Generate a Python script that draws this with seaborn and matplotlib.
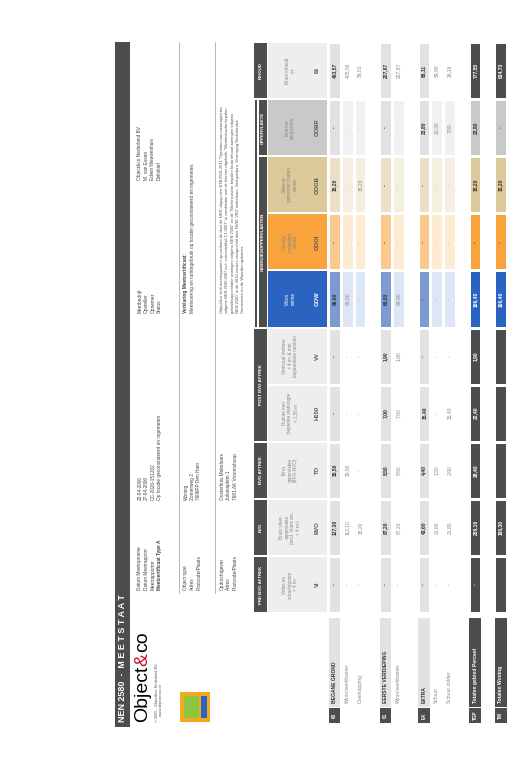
import numpy as np
import pandas as pd
import seaborn as sns
import matplotlib
matplotlib.use("Agg")
import matplotlib.pyplot as plt
from matplotlib.colors import ListedColormap
from matplotlib.patches import Rectangle

sns.set_theme(style="white")
plt.rcParams['font.family'] = ['Liberation Sans', 'DejaVu Sans']

# ---------------- data ----------------
row_labels = ["BEGANE GROND", "Woon/werkkamer", "Overkapping", None,
              "EERSTE VERDIEPING", "Woon/werkkamer", None,
              "EXTRA", "Schuur", "Schuur zolder", None,
              "Totalen gebied Perceel", None, "Totalen Woning"]
row_kinds = ["group", "detail", "detail", "gap", "group", "detail", "gap",
             "group", "detail", "detail", "gap", "total", "gap", "total"]
row_codes = ["00", "", "", "", "01", "", "", "EX", "", "", "", "TGP", "", "TW"]

col_codes = ["VI", "BVO", "TO", "H150", "VV", "GOW", "GOOI", "GOGB", "GOBR", "BI"]
col_desc = ["Vides en\nschachtgaten\n> 4 m²",
            "Bruto vloer-\noppervlakte\n(excl. Vides etc.\n> 4 m²)",
            "Terra\noppervlakte\n(BVO-NVO)",
            "Ruimte met\nbeperkte stahoogte\n< 1,50 m",
            "Verticaal Verkeer\n> 4 m² & met\nbegaanbare ruimten",
            "Woon\nruimte",
            "Overige\ninpandige\nruimte",
            "Gebouw\ngebonden buiten\nruimte",
            "Externe\nbergruimte",
            "Bruto inhoud\nm³"]
groups = [("PRE BVO AFTREK", 0, 0), ("BVO", 1, 1), ("BVO AFTREK", 2, 2),
          ("POST BVO AFTREK", 3, 4), ("GEBRUIKSOPPERVLAKTEN", 5, 7),
          ("OPPERVLAKTE", 8, 8), ("INHOUD", 9, 9)]

_ = None
VI   = ["-", "-", "-", _, "-", "-", _, "-", "-", "-", _, "-", _, ""]
BVO  = ["127,30", "112,10", "15,20", _, "87,20", "87,20", _, "43,60", "21,80", "21,80", _, "258,10", _, "199,30"]
TO   = ["15,50", "15,50", "-", _, "8,50", "8,50", _, "4,40", "1,50", "2,90", _, "28,40", _, ""]
H150 = ["-", "-", "-", _, "7,00", "7,00", _, "15,40", "-", "15,40", _, "22,40", _, ""]
VV   = ["-", "-", "-", _, "1,90", "1,90", _, "-", "-", "-", _, "1,90", _, ""]
GOW  = ["96,60", "96,60", "-", _, "69,80", "69,80", _, "-", "-", "-", _, "166,40", _, "166,40"]
GOOI = ["-", "-", "-", _, "-", "-", _, "-", "-", "-", _, "-", _, "-"]
GOGB = ["15,20", "-", "15,20", _, "-", "-", _, "-", "-", "-", _, "15,20", _, "15,20"]
GOBR = ["-", "-", "-", _, "-", "-", _, "23,80", "20,30", "3,50", _, "23,80", _, "-"]
BI   = ["463,57", "405,56", "58,01", _, "227,87", "227,87", _, "86,11", "59,95", "26,16", _, "777,55", _, "634,73"]
values = {"VI": VI, "BVO": BVO, "TO": TO, "H150": H150, "VV": VV, "GOW": GOW,
          "GOOI": GOOI, "GOGB": GOGB, "GOBR": GOBR, "BI": BI}

# ---------------- styles ----------------
GREY = ("#eeeeee", "#e2e2e2", "#ffffff", "#4d4d4d")
col_colors = {"VI": GREY, "BVO": GREY, "TO": GREY, "H150": GREY, "VV": GREY,
              "GOW": ("#2b63c1", "#7c9bd1", "#dde6f6", "#2b63c1"),
              "GOOI": ("#f9a33d", "#fbc98d", "#fdebd2", "#f9a33d"),
              "GOGB": ("#dbc99a", "#ebe0c5", "#f4efe1", "#dbc99a"),
              "GOBR": ("#c9c9c9", "#e1e1e1", "#f1f1f1", "#c9c9c9"),
              "BI": GREY}
DARK = "#4d4d4d"

W, H = 532, 768
fig = plt.figure(figsize=(W / 100, H / 100), dpi=100)
bg = fig.add_axes([0, 0, 1, 1])
bg.set_xlim(0, W); bg.set_ylim(H, 0); bg.axis("off")

x0, x1 = 328, 507
y_top, y_bot = 42, 613
n_rows = len(row_kinds)
slot = (x1 - x0) / n_rows
cw = (y_bot - y_top) / len(col_codes)
order = col_codes[::-1]

def col_y(i):
    k = order.index(col_codes[i])
    return y_top + k * cw, y_top + (k + 1) * cw

palette = []
def cidx(c):
    if c not in palette:
        palette.append(c)
    return palette.index(c)
kind_i = {"group": 1, "detail": 2, "total": 3}
mat = np.zeros((len(order), n_rows))
for r, code in enumerate(order):
    for c, kind in enumerate(row_kinds):
        mat[r, c] = cidx("#ffffff") if kind == "gap" else cidx(col_colors[code][kind_i[kind]])
df = pd.DataFrame(mat, index=order, columns=range(n_rows))
hax = fig.add_axes([x0 / W, 1 - y_bot / H, (x1 - x0) / W, (y_bot - y_top) / H])
sns.heatmap(df, ax=hax, cmap=ListedColormap(palette), vmin=-0.5, vmax=len(palette) - 0.5,
            cbar=False, linewidths=1.0, linecolor="white", xticklabels=False, yticklabels=False)
hax.axis("off")
for r, code in enumerate(order):
    for c, kind in enumerate(row_kinds):
        v = values[code][c]
        if not v:
            continue
        fc = col_colors[code][kind_i[kind]]
        white = fc in (DARK, "#2b63c1")
        hax.text(c + 0.5, r + 0.5, v, rotation=90, ha="center", va="center", fontsize=3.6,
                 color="white" if white else ("#333333" if kind != "detail" else "#888888"),
                 fontweight="bold" if kind != "detail" else "normal")

for i, code in enumerate(col_codes):
    ya, yb = col_y(i)
    fc = col_colors[code][0]
    bg.add_patch(Rectangle((268, ya + 1), 59, yb - ya - 2, color=fc, lw=0))
    tc = "white" if code == "GOW" else "#888888"
    bg.text(290, (ya + yb) / 2, col_desc[i], rotation=90, ha="center", va="center",
            fontsize=3.3, color=tc, linespacing=1.1)
    bg.text(317, (ya + yb) / 2, code, rotation=90, ha="center", va="center",
            fontsize=4.2, color="white" if code == "GOW" else "#555555", fontweight="bold")

for name, a, b in groups:
    ya = col_y(b)[0]; yb = col_y(a)[1]
    xa = 259 if name in ("GEBRUIKSOPPERVLAKTEN", "OPPERVLAKTE") else 254
    bg.add_patch(Rectangle((xa, ya + 1), 267 - xa, yb - ya - 2, color=DARK, lw=0))
    bg.text((xa + 267) / 2, (ya + yb) / 2, name, rotation=90, ha="center", va="center",
            fontsize=3.2, color="white", fontweight="bold")
bg.add_patch(Rectangle((255, col_y(8)[0] + 1), 2, col_y(5)[1] - col_y(8)[0] - 2, color=DARK, lw=0))

for c, kind in enumerate(row_kinds):
    if kind == "gap":
        continue
    xa = x0 + c * slot + 0.5
    xc = xa + slot / 2 - 0.5
    if kind in ("group", "total"):
        bg.add_patch(Rectangle((xa, 618), slot - 1, 89, color="#e2e2e2" if kind == "group" else DARK, lw=0))
        bg.add_patch(Rectangle((xa, 708), slot - 1, 15, color=DARK, lw=0))
        bg.text(xc, 715.5, row_codes[c], rotation=90, ha="center", va="center",
                fontsize=3.3, color="white", fontweight="bold")
        bg.text(xc, 703, row_labels[c], rotation=90, ha="center", va="bottom", fontsize=3.6,
                color="#333333" if kind == "group" else "white", fontweight="bold")
    else:
        bg.text(xc, 703, row_labels[c], rotation=90, ha="center", va="bottom",
                fontsize=3.6, color="#888888")

# ---------------- page header ----------------
bg.add_patch(Rectangle((115, 42), 15, 685, color=DARK, lw=0))
bg.text(122.5, 722, "NEN 2580  -  M E E T S T A A T", rotation=90, ha="center", va="bottom",
        fontsize=6.5, color="white", fontweight="bold")
bg.text(143, 722, "Object", rotation=90, ha="center", va="bottom", fontsize=14, color="black")
bg.text(143, 666, "&", rotation=90, ha="center", va="bottom", fontsize=14, color="#c8102e")
bg.text(143, 652, "co", rotation=90, ha="center", va="bottom", fontsize=14, color="black")
bg.text(157, 722, "© 2005 - Object&co Nederland BV", rotation=90, ha="center", va="bottom",
        fontsize=2.8, color="#555555")
bg.text(161, 716, "www.objectenco.nl", rotation=90, ha="center", va="bottom", fontsize=2.8, color="#555555")
bg.add_patch(Rectangle((180, 692), 30, 30, color="#f5a623", lw=0))
bg.add_patch(Rectangle((184, 696), 15, 22, color="#8cc63f", lw=0))
bg.add_patch(Rectangle((201, 696), 6, 22, color="#2b63c1", lw=0))

info = [
    ([140, 146.5, 153, 159.5],
     ["Datum Meetopname", "Datum Meetrapport", "Meetrapportnr", "Meetcertificaat Type A"],
     ["22-04-2006", "27-04-2006", "OC-2020-151202", "Op locatie geconstateerd en ingemeten"],
     ["Meetbedrijf", "Opsteller", "Opnemer", "Status"],
     ["Object&co Nederland BV", "M. van Essen", "Edwin Nieuwenhuis", "Definitief"]),
    ([186, 192.5, 199], ["Object type", "Adres", "Postcode/Plaats"],
     ["Woning", "Zomerweg 2", "7606PP Den Ham"],
     ["Verklaring Meetcertificaat:", "Meetvoering en rumtegebruik op locatie geconstateerd en ingemeten.", ""],
     ["", "", ""]),
    ([222, 228.5, 235], ["Opdrachtgever", "Adres", "Postcode/Plaats"],
     ["Oosterhuis Makelaars", "Julianaplein 1", "7681 AK Vroomshoop"], ["", "", ""], ["", "", ""]),
]
for xs, l1, v1, l2, v2 in info:
    for k, x in enumerate(xs):
        for y, t in ((590, l1[k]), (500, v1[k]), (313, l2[k]), (180, v2[k])):
            if t:
                bold = t in ("Meetcertificaat Type A", "Verklaring Meetcertificaat:")
                bg.text(x, y, t, rotation=90, ha="center", va="bottom", fontsize=3.4,
                        color="#444444", fontweight="bold" if bold else "normal")
para = ["Object&co stelt meetrapporten op conform de door de NEN uitgegeven NTA 2581:2011 \"Opmeten van meetrapporten",
        "volgens NEN 2580:2007 incl. correctieblad C1:2007\" in combinatie met de hiervan afgeleide \"Meetinstructie bepalen",
        "gebruiksoppervlakte woningen volgens NEN 2580\" en de \"Meetinstructie bepalen bruto inhoud woningen volgens",
        "NEN 2580\" in de 2016 versies vastgesteld door NVM, VBO makelaars, Vastgoedpro, Vereniging Nederlandse",
        "Gemeenten en de Waarderingskamer."]
for k, t in enumerate(para):
    bg.text(222 + k * 5.3, 313, t, rotation=90, ha="center", va="bottom", fontsize=2.9, color="#555555")
bg.plot([179, 179], [42, 593], color="#aaaaaa", lw=0.6)
bg.plot([215, 215], [42, 593], color="#aaaaaa", lw=0.6)

fig.savefig("out.png", dpi=100, facecolor="white")
